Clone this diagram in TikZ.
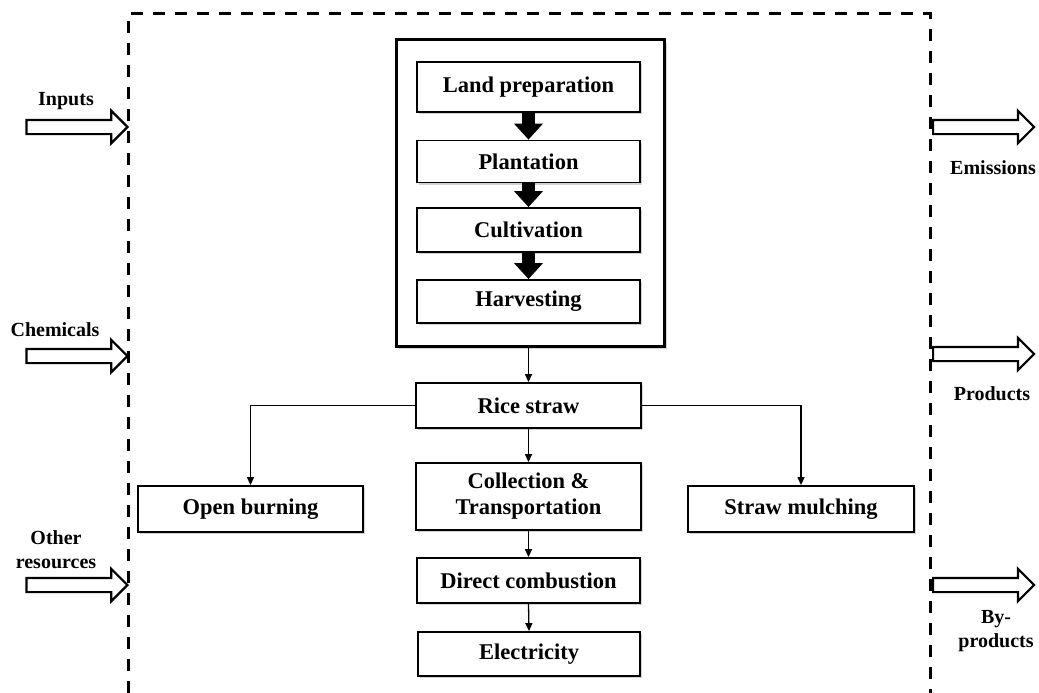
\documentclass[tikz,border=0pt]{standalone}
\usepackage{fontspec}
\setmainfont{Liberation Serif}
\usetikzlibrary{arrows.meta,shapes.arrows,shadows}

\newcommand\boxfont{\fontsize{22.5}{26}\selectfont\bfseries}
\newcommand\sidefont{\fontsize{20}{24}\selectfont\bfseries}

\tikzset{
  stepbox/.style={draw, line width=1.8pt, fill=white, minimum width=223pt,
    inner sep=2pt, font=\boxfont, align=center,
    drop shadow={shadow xshift=2pt, shadow yshift=-2pt, opacity=0.35}},
  stagebox/.style={draw, line width=3pt, fill=white, minimum width=268pt,
    minimum height=306pt,
    drop shadow={shadow xshift=3pt, shadow yshift=-3pt, opacity=0.35}},
  blockarrow/.style={line width=13pt, -{Triangle[length=16pt, width=28pt]}},
  flow/.style={line width=1.3pt, -{Triangle[length=8pt, width=7pt]}},
  sidearrow/.style={single arrow, draw, line width=2.2pt, fill=white,
    minimum height=101pt, minimum width=30pt, inner sep=6pt,
    single arrow head extend=9pt},
  sidelabel/.style={font=\sidefont, align=center, inner sep=0pt},
  frame/.style={line width=3pt, dash pattern=on 12pt off 10pt},
}

\begin{document}
\begin{tikzpicture}[x=1pt, y=-1pt]

\useasboundingbox (0,0) rectangle (1039,693);

% System boundary
\draw[frame] (128,693) |- (930,14) -- (930,693);

% Cultivation stage
\node[stagebox] (stage) at (530,193) {};
\node[stepbox, minimum height=50pt] (land) at (528.5,87) {Land preparation};
\node[stepbox, minimum height=42pt] (plant) at (528.5,161.5) {Plantation};
\node[stepbox, minimum height=44pt] (cult) at (528.5,230) {Cultivation};
\node[stepbox, minimum height=43pt] (harv) at (528.5,301.5) {Harvesting};

\draw[blockarrow] (land.south) -- (plant.north);
\draw[blockarrow] (plant.south) -- (cult.north);
\draw[blockarrow] (cult.south) -- (harv.north);

% Straw management
\node[stepbox, minimum width=225pt, minimum height=45pt] (straw) at (528.5,405.5) {Rice straw};
\node[stepbox, minimum width=225pt, minimum height=46pt] (burn) at (250.5,509) {Open burning};
\node[stepbox, minimum width=225pt, minimum height=67pt] (collect) at (528.5,496.5) {Collection \&\\Transportation};
\node[stepbox, minimum width=226pt, minimum height=46pt] (mulch) at (801,509) {Straw mulching};
\node[stepbox, minimum height=45pt] (comb) at (528.5,580.5) {Direct combustion};
\node[stepbox, minimum width=222pt, minimum height=44pt] (elec) at (529,654) {Electricity};

\draw[flow] (stage.south -| straw.north) -- (straw.north);
\draw[flow] (straw.west) -| (burn.north);
\draw[flow] (straw.east) -| (mulch.north);
\draw[flow] (straw.south) -- (collect.north);
\draw[flow] (collect.south) -- (comb.north);
\draw[flow] (comb.south) -- (elec.north);

% Inputs
\node[sidearrow, anchor=tip] (inarr) at (129,127) {};
\node[sidearrow, anchor=tip] (chemarr) at (129,356) {};
\node[sidearrow, anchor=tip] (otherarr) at (129,585) {};
\node[sidelabel] (inlbl) at (66,101) {Inputs};
\node[sidelabel] (chemlbl) at (55,330) {Chemicals};
\node[sidelabel] (otherlbl) at (56,550) {Other\\resources};

% Outputs
\node[sidearrow, anchor=tail] (emarr) at (932,127) {};
\node[sidearrow, anchor=tail] (prodarr) at (932,354) {};
\node[sidearrow, anchor=tail] (byarr) at (932,585) {};
\node[sidelabel] (emlbl) at (993,168) {Emissions};
\node[sidelabel] (prodlbl) at (992,394) {Products};
\node[sidelabel] (bylbl) at (996,631) {By-\\products};

\end{tikzpicture}
\end{document}
